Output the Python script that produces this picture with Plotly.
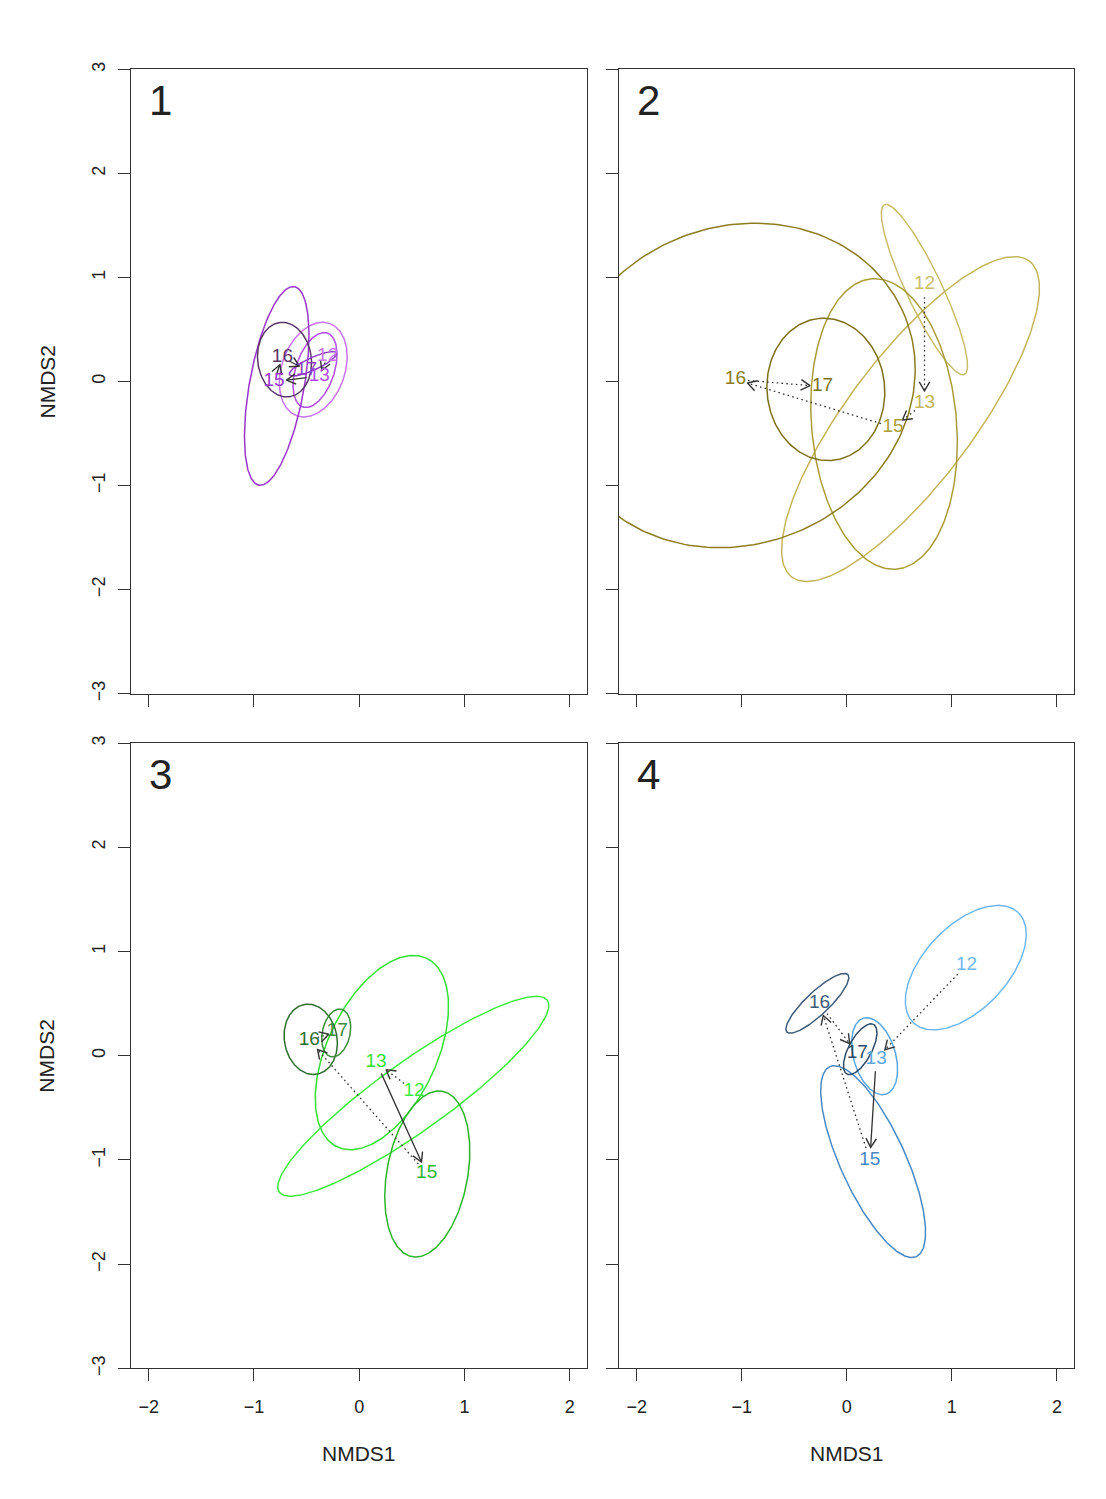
import numpy as np
import plotly.graph_objects as go

# ---- data -----------------------------------------------------------------
YEARS = ["12", "13", "15", "16", "17"]
X_TICKS = [-2, -1, 0, 1, 2]
Y_TICKS = [-3, -2, -1, 0, 1, 2, 3]
PANEL_NAMES = ["1", "2", "3", "4"]

# Year centroids in NMDS space (label positions), one list per panel
P1_CX = [-0.30, -0.38, -0.81, -0.73, -0.50]
P1_CY = [0.24, 0.05, 0.00, 0.23, 0.11]
P2_CX = [0.74, 0.74, 0.44, -1.06, -0.23]
P2_CY = [0.93, -0.21, -0.44, 0.02, -0.05]
P3_CX = [0.52, 0.16, 0.64, -0.475, -0.21]
P3_CY = [-0.34, -0.06, -1.13, 0.15, 0.23]
P4_CX = [1.14, 0.28, 0.22, -0.26, 0.10]
P4_CY = [0.87, -0.03, -1.00, 0.50, 0.02]

# Dispersion ellipses: centre x, centre y, semi-major, semi-minor, angle (deg)
P1_EX = [-0.437, -0.42, -0.784, -0.71, -0.44]
P1_EY = [0.114, 0.11, -0.043, 0.21, 0.17]
P1_EA = [0.47, 0.374, 0.969, 0.36, 0.246]
P1_EB = [0.30, 0.183, 0.26, 0.255, 0.06]
P1_ANG = [71, 72, 80, 97, 25]

P2_EX = [0.739, 0.607, 0.355, -1.043, -0.199]
P2_EY = [0.883, -0.361, -0.408, -0.038, -0.076]
P2_EA = [0.90, 1.893, 1.40, 1.73, 0.685]
P2_EB = [0.17, 0.60, 0.69, 1.52, 0.56]
P2_ANG = [115, 53.4, 94.8, 25, 95]

P3_EX = [0.513, 0.215, 0.646, -0.461, -0.219]
P3_EY = [-0.389, 0.03, -1.135, 0.157, 0.218]
P3_EA = [1.571, 1.0, 0.806, 0.34, 0.233]
P3_EB = [0.33, 0.52, 0.384, 0.25, 0.132]
P3_ANG = [35.9, 65, 79.8, 100, 78]

P4_EX = [1.133, 0.265, 0.251, -0.28, 0.128]
P4_EY = [0.845, -0.005, -1.016, 0.503, 0.062]
P4_EA = [0.727, 0.38, 1.0, 0.40, 0.27]
P4_EB = [0.40, 0.20, 0.31, 0.11, 0.11]
P4_ANG = [47, 106, 114.3, 43.6, 62]

# Colours per year
P1_COL = ["#C874F2", "#B04CE6", "#9936CC", "#5A3769", "#8A3CC4"]
P2_COL = ["#C8BD6E", "#C2B55C", "#A99D37", "#8C7D20", "#7D7118"]
P3_COL = ["#3DEB3D", "#33E033", "#2DB52D", "#2F6E2F", "#3C8D3C"]
P4_COL = ["#72B8EE", "#5CA6E0", "#4A88C4", "#3E5C7A", "#2F4B67"]

# Line type of the trajectory arrows 12->13, 13->15, 15->16, 16->17
P1_ARROWS = ["dot", "solid", "solid", "solid"]
P2_ARROWS = ["dot", "dot", "dot", "dot"]
P3_ARROWS = ["dot", "solid", "dot", "dot"]
P4_ARROWS = ["dot", "solid", "dot", "dot"]

PANELS = [
    (P1_CX, P1_CY, P1_EX, P1_EY, P1_EA, P1_EB, P1_ANG, P1_COL, P1_ARROWS),
    (P2_CX, P2_CY, P2_EX, P2_EY, P2_EA, P2_EB, P2_ANG, P2_COL, P2_ARROWS),
    (P3_CX, P3_CY, P3_EX, P3_EY, P3_EA, P3_EB, P3_ANG, P3_COL, P3_ARROWS),
    (P4_CX, P4_CY, P4_EX, P4_EY, P4_EA, P4_EB, P4_ANG, P4_COL, P4_ARROWS),
]

# ---- page geometry ----------------------------------------------------------
W, H = 1106, 1499
FONT = "Liberation Sans, Arial, Helvetica, sans-serif"
AXIS_COL = "#333333"
ARROW_COL = "#333333"
TEXT_COL = "#222222"
X_RANGE = [-2.168, 2.163]
Y_RANGE = [-3, 3]

# panel boxes in pixels: left, right, top, bottom
BOXES = [(131, 587, 62, 693), (619, 1074, 62, 693),
         (131, 587, 743, 1375), (619, 1074, 743, 1375)]


def fy(py):
    """Pixel row -> paper fraction."""
    return 1 - py / H


def ellipse_path(cx, cy, a, b, ang_deg, n=240):
    t = np.linspace(0, 2 * np.pi, n)
    th = np.deg2rad(ang_deg)
    x = cx + a * np.cos(t) * np.cos(th) - b * np.sin(t) * np.sin(th)
    y = cy + a * np.cos(t) * np.sin(th) + b * np.sin(t) * np.cos(th)
    return x, y


def arrow_parts(x0, y0, x1, y1, trim=0.12, head=0.10, spread=30):
    d = np.array([x1 - x0, y1 - y0], dtype=float)
    L = np.hypot(*d)
    u = d / L
    cut = min(trim, 0.3 * L)
    s = np.array([x0, y0]) + u * cut
    e = np.array([x1, y1]) - u * cut
    hl = min(head, 0.9 * np.hypot(*(e - s)) + 0.04)
    r = np.deg2rad(spread)
    rot1 = np.array([u[0] * np.cos(r) - u[1] * np.sin(r), u[0] * np.sin(r) + u[1] * np.cos(r)])
    rot2 = np.array([u[0] * np.cos(-r) - u[1] * np.sin(-r), u[0] * np.sin(-r) + u[1] * np.cos(-r)])
    h1 = e - rot1 * hl
    h2 = e - rot2 * hl
    shaft = ([s[0], e[0]], [s[1], e[1]])
    tip = ([h1[0], e[0], h2[0]], [h1[1], e[1], h2[1]])
    return shaft, tip


fig = go.Figure()

for k, (cx, cy, ex, ey, ea, eb, ang, cols, styles) in enumerate(PANELS):
    xa = "x" if k == 0 else f"x{k + 1}"
    ya = "y" if k == 0 else f"y{k + 1}"
    # ellipses
    for i in range(len(YEARS)):
        px, py = ellipse_path(ex[i], ey[i], ea[i], eb[i], ang[i])
        fig.add_trace(go.Scatter(x=px, y=py, mode="lines", xaxis=xa, yaxis=ya,
                                 line=dict(color=cols[i], width=1.5),
                                 hoverinfo="skip", showlegend=False))
    # trajectory arrows between consecutive years
    for j in range(len(YEARS) - 1):
        shaft, tip = arrow_parts(cx[j], cy[j], cx[j + 1], cy[j + 1])
        dash = "1.6px,3.2px" if styles[j] == "dot" else "solid"
        fig.add_trace(go.Scatter(x=shaft[0], y=shaft[1], mode="lines", xaxis=xa, yaxis=ya,
                                 line=dict(color=ARROW_COL, width=1.3, dash=dash),
                                 hoverinfo="skip", showlegend=False))
        fig.add_trace(go.Scatter(x=tip[0], y=tip[1], mode="lines", xaxis=xa, yaxis=ya,
                                 line=dict(color=ARROW_COL, width=1.4),
                                 hoverinfo="skip", showlegend=False))
    # year labels at centroids
    fig.add_trace(go.Scatter(x=cx, y=cy, text=YEARS, mode="text", xaxis=xa, yaxis=ya,
                             textposition="middle center",
                             textfont=dict(family=FONT, size=19, color=cols),
                             hoverinfo="skip", showlegend=False))

layout = dict(width=W, height=H, margin=dict(l=0, r=0, t=0, b=0),
              paper_bgcolor="white", plot_bgcolor="white",
              font=dict(family=FONT, color=TEXT_COL), showlegend=False)

annotations = []
for k, (l, r, t, b) in enumerate(BOXES):
    sx = "" if k == 0 else str(k + 1)
    bottom = k >= 2
    left = k % 2 == 0
    layout[f"xaxis{sx}"] = dict(
        domain=[l / W, r / W], range=X_RANGE, anchor=f"y{sx}",
        tickvals=X_TICKS, ticktext=[str(v).replace("-", "\u2212") for v in X_TICKS],
        showticklabels=bottom, ticks="outside", ticklen=12, tickwidth=1.2,
        tickcolor=AXIS_COL, showline=True, linecolor=AXIS_COL, linewidth=1.3,
        mirror=True, showgrid=False, zeroline=False, ticklabelstandoff=10,
        tickfont=dict(family=FONT, size=18, color=TEXT_COL))
    layout[f"yaxis{sx}"] = dict(
        domain=[fy(b), fy(t)], range=Y_RANGE, anchor=f"x{sx}",
        tickvals=Y_TICKS, ticktext=[str(v).replace("-", "\u2212") for v in Y_TICKS],
        showticklabels=left, tickangle=-90, ticks="outside", ticklen=12, tickwidth=1.2,
        tickcolor=AXIS_COL, showline=True, linecolor=AXIS_COL, linewidth=1.3,
        mirror=True, showgrid=False, zeroline=False, ticklabelstandoff=6,
        tickfont=dict(family=FONT, size=18, color=TEXT_COL))
    annotations.append(dict(text=PANEL_NAMES[k], xref=f"x{sx} domain", yref=f"y{sx} domain",
                            x=0.065, y=0.95, xanchor="center", yanchor="middle",
                            showarrow=False, font=dict(family=FONT, size=42, color=TEXT_COL)))
    if bottom:
        annotations.append(dict(text="NMDS1", xref="paper", yref="paper",
                                x=(l + r) / 2 / W, y=fy(1461), xanchor="center",
                                yanchor="middle", showarrow=False,
                                font=dict(family=FONT, size=21, color=TEXT_COL)))
    if left:
        annotations.append(dict(text="NMDS2", xref="paper", yref="paper",
                                x=47 / W, y=fy((t + b) / 2), xanchor="center",
                                yanchor="middle", textangle=-90, showarrow=False,
                                font=dict(family=FONT, size=21, color=TEXT_COL)))

layout["annotations"] = annotations
fig.update_layout(**layout)
fig.write_html("out.html")
